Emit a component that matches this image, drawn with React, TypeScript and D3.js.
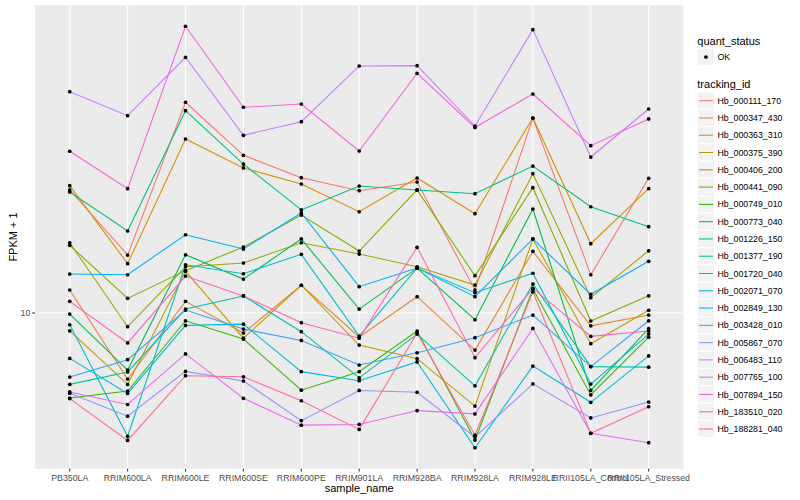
import React from "react";
import * as d3 from "d3";

const samples = [
  "PB350LA", "RRIM600LA", "RRIM600LE", "RRIM600SE", "RRIM600PE", "RRIM901LA",
  "RRIM928BA", "RRIM928LA", "RRIM928LE", "RRII105LA_Control", "RRII105LA_Stressed",
];

const trackingIds = [
  "Hb_000111_170", "Hb_000347_430", "Hb_000363_310", "Hb_000375_390", "Hb_000406_200",
  "Hb_000441_090", "Hb_000749_010", "Hb_000773_040", "Hb_001226_150", "Hb_001377_190",
  "Hb_001720_040", "Hb_002071_070", "Hb_002849_130", "Hb_003428_010", "Hb_005867_070",
  "Hb_006483_110", "Hb_007765_100", "Hb_007894_150", "Hb_183510_020", "Hb_188281_040",
];

// FPKM + 1 per sample (same order as samples)
const hb000111_170 = [18.5, 13.36, 28.68, 22.0, 19.67, 18.43, 19.25, 11.22, 26.51, 12.11, 19.61];
const hb000347_430 = [11.22, 7.19, 10.6, 9.05, 11.49, 8.87, 10.85, 8.31, 13.61, 9.38, 9.9];
const hb000363_310 = [18.9, 12.8, 23.87, 20.65, 19.06, 16.59, 19.64, 16.43, 26.51, 14.14, 18.62];
const hb000375_390 = [9.15, 7.0, 12.32, 8.82, 11.49, 8.52, 7.96, 6.28, 14.48, 8.58, 10.14];
const hb000406_200 = [14.21, 9.34, 12.6, 12.84, 14.21, 13.43, 12.6, 11.5, 20.07, 10.8, 13.65];
const hb000441_090 = [14.03, 10.76, 12.36, 13.91, 16.32, 13.63, 18.5, 12.05, 18.71, 9.61, 10.9];
const hb000749_010 = [6.54, 6.77, 9.62, 8.78, 6.8, 7.46, 9.14, 5.3, 11.27, 6.64, 8.86];
const hb000773_040 = [9.95, 7.52, 13.38, 11.85, 14.48, 10.2, 12.52, 9.67, 16.82, 6.79, 9.25];
const hb001226_150 = [18.31, 15.07, 27.5, 21.06, 16.74, 18.87, 18.5, 18.16, 20.85, 17.01, 15.4];
const hb001377_190 = [7.0, 7.45, 10.2, 10.89, 9.11, 7.23, 9.0, 6.95, 11.56, 7.65, 7.63];
const hb001720_040 = [9.43, 5.4, 12.73, 12.17, 13.41, 8.91, 12.52, 11.07, 12.2, 7.01, 9.0];
const hb002071_070 = [7.97, 6.69, 9.4, 9.46, 7.46, 7.13, 7.83, 5.1, 7.67, 6.4, 8.07];
const hb002849_130 = [12.15, 12.11, 14.79, 13.77, 16.49, 11.41, 12.52, 10.85, 14.48, 10.98, 12.95];
const hb003428_010 = [7.26, 7.92, 10.15, 9.23, 8.72, 7.71, 8.2, 8.84, 9.9, 7.65, 9.62];
const hb005867_070 = [6.7, 5.97, 7.47, 7.12, 5.84, 6.79, 6.73, 5.38, 7.02, 5.92, 6.41];
const hb006483_110 = [30.24, 26.82, 35.91, 24.31, 26.03, 34.38, 34.44, 25.47, 41.23, 21.81, 27.73];
const hb007765_100 = [6.74, 6.33, 8.15, 6.53, 5.71, 5.73, 6.14, 6.04, 9.26, 5.48, 5.23];
const hb007894_150 = [22.45, 18.62, 41.93, 27.97, 28.43, 22.48, 33.15, 25.28, 29.89, 23.08, 26.38];
const hb183510_020 = [10.6, 8.61, 12.03, 10.89, 9.53, 8.82, 13.89, 8.0, 11.31, 8.9, 9.14];
const hb188281_040 = [6.52, 5.29, 7.31, 7.27, 6.45, 5.59, 9.05, 5.43, 11.12, 5.48, 6.26];

const seriesValues = [
  hb000111_170, hb000347_430, hb000363_310, hb000375_390, hb000406_200,
  hb000441_090, hb000749_010, hb000773_040, hb001226_150, hb001377_190,
  hb001720_040, hb002071_070, hb002849_130, hb003428_010, hb005867_070,
  hb006483_110, hb007765_100, hb007894_150, hb183510_020, hb188281_040,
];

const yBreaks = [10];

const palette = [
  "#F8766D", "#EA8331", "#D89000", "#C09B00", "#A3A500", "#7CAE00", "#39B600",
  "#00BB4E", "#00BF7D", "#00C1A3", "#00BFC4", "#00BAE0", "#00B0F6", "#35A2FF",
  "#9590FF", "#C77CFF", "#E76BF3", "#FA62DB", "#FF62BC", "#FF6C91",
];

const W = 800;
const H = 500;
const P = { left: 35, right: 683.4, top: 5.2, bottom: 468.8 };
const FONT = "'Liberation Sans', Arial, Helvetica, sans-serif";

export default function App() {
  const x = d3.scalePoint<string>().domain(samples).range([P.left, P.right]).padding(0.6);
  const all = seriesValues.flat();
  const [lo, hi] = d3.extent(all) as [number, number];
  const llo = Math.log10(lo);
  const lhi = Math.log10(hi);
  const sp = lhi - llo;
  const y = d3
    .scaleLog()
    .domain([Math.pow(10, llo - 0.05 * sp), Math.pow(10, lhi + 0.05 * sp)])
    .range([P.bottom, P.top]);

  const line = d3
    .line<number>()
    .x((_, i) => x(samples[i]) as number)
    .y((d) => y(d));

  const legendX = 697.3;
  const keyW = 17.28;
  const firstKey = 100.7;
  const step = 17.28;

  return (
    <svg
      width={W}
      height={H}
      style={{ position: "absolute", left: 0, top: 0, background: "#fff" }}
      fontFamily={FONT}
    >
      <rect x={0} y={0} width={W} height={H} fill="#fff" />
      <rect x={P.left} y={P.top} width={P.right - P.left} height={P.bottom - P.top} fill="#EBEBEB" />
      {samples.map((s) => (
        <line key={s} x1={x(s)} x2={x(s)} y1={P.top} y2={P.bottom} stroke="#fff" strokeWidth={1.07} />
      ))}
      {yBreaks.map((b) => (
        <line key={b} x1={P.left} x2={P.right} y1={y(b)} y2={y(b)} stroke="#fff" strokeWidth={1.07} />
      ))}
      {seriesValues.map((vals, i) => (
        <path key={trackingIds[i]} d={line(vals) || ""} fill="none" stroke={palette[i]} strokeWidth={1.07} />
      ))}
      {seriesValues.map((vals, i) =>
        vals.map((v, j) => (
          <circle key={trackingIds[i] + j} cx={x(samples[j])} cy={y(v)} r={1.85} fill="#000" />
        ))
      )}
      {/* axes */}
      {samples.map((s) => (
        <g key={"xt" + s}>
          <line x1={x(s)} x2={x(s)} y1={P.bottom} y2={P.bottom + 2.74} stroke="#333" strokeWidth={1.07} />
          <text x={x(s)} y={P.bottom + 12} textAnchor="middle" fontSize={8.8} fill="#4D4D4D">
            {s}
          </text>
        </g>
      ))}
      {yBreaks.map((b) => (
        <g key={"yt" + b}>
          <line x1={P.left - 2.74} x2={P.left} y1={y(b)} y2={y(b)} stroke="#333" strokeWidth={1.07} />
          <text x={P.left - 4.6} y={y(b) + 3.1} textAnchor="end" fontSize={8.8} fill="#4D4D4D">
            {b}
          </text>
        </g>
      ))}
      <text x={(P.left + P.right) / 2} y={492} textAnchor="middle" fontSize={11} fill="#000">
        sample_name
      </text>
      <text
        transform={`translate(16.5, ${(P.top + P.bottom) / 2}) rotate(-90)`}
        textAnchor="middle"
        fontSize={11}
        fill="#000"
      >
        FPKM + 1
      </text>
      {/* legend: quant_status */}
      <text x={legendX} y={44.5} fontSize={11} fill="#000">
        quant_status
      </text>
      <rect x={legendX} y={57 - keyW / 2} width={keyW} height={keyW} fill="#F2F2F2" stroke="#fff" strokeWidth={1.07} />
      <circle cx={legendX + keyW / 2} cy={57} r={1.85} fill="#000" />
      <text x={legendX + keyW + 2.8} y={57 + 3.1} fontSize={8.8} fill="#000">
        OK
      </text>
      {/* legend: tracking_id */}
      <text x={legendX} y={88.3} fontSize={11} fill="#000">
        tracking_id
      </text>
      {trackingIds.map((id, i) => {
        const cy = firstKey + i * step;
        return (
          <g key={"lg" + id}>
            <rect x={legendX} y={cy - keyW / 2} width={keyW} height={keyW} fill="#F2F2F2" stroke="#fff" strokeWidth={1.07} />
            <line x1={legendX + 1.7} x2={legendX + keyW - 1.7} y1={cy} y2={cy} stroke={palette[i]} strokeWidth={1.07} />
            <text x={legendX + keyW + 2.8} y={cy + 3.1} fontSize={8.8} fill="#000">
              {id}
            </text>
          </g>
        );
      })}
    </svg>
  );
}
